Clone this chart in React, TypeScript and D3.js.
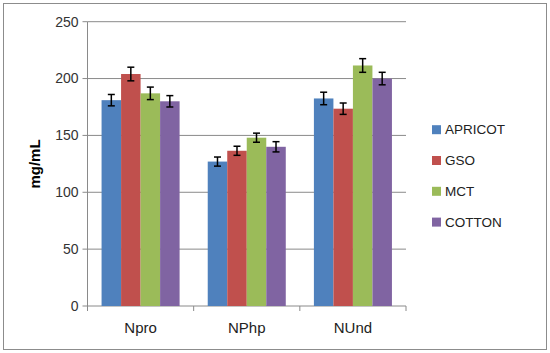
import React from "react";
import * as d3 from "d3";

const categories = ["Npro", "NPhp", "NUnd"];
const seriesNames = ["APRICOT", "GSO", "MCT", "COTTON"];
const colors = ["#4F81BD", "#C0504D", "#9BBB59", "#8064A2"];
const apricot = [181, 127, 182.5];
const gso = [204, 136.5, 173.5];
const mct = [187, 148, 211.5];
const cotton = [180, 140, 200];
const apricotErr = [5, 4, 5.5];
const gsoErr = [6, 4, 5];
const mctErr = [5.5, 4, 6];
const cottonErr = [5, 4.5, 5.5];
const yTicks = [0, 50, 100, 150, 200, 250];

const values = [apricot, gso, mct, cotton];
const errors = [apricotErr, gsoErr, mctErr, cottonErr];

export default function App() {
  const W = 550, H = 353;
  const left = 87.5, right = 406, top = 21.7, bottom = 306;
  const y = d3.scaleLinear().domain([0, 250]).range([bottom, top]);
  const x0 = d3.scaleBand().domain(categories).range([left, right]).paddingInner(0.265).paddingOuter(0.1325);
  const x1 = d3.scaleBand().domain(seriesNames).range([0, x0.bandwidth()]);
  const font = "Liberation Sans, Arial, sans-serif";
  const bandStep = (right - left) / categories.length;
  return (
    <svg width={W} height={H} style={{ position: "absolute", left: 0, top: 0 }} fontFamily={font}>
      <rect x={0} y={0} width={W} height={H} fill="#fff" />
      <rect x={3.5} y={3.5} width={543} height={346} fill="none" stroke="#8c8c8c" strokeWidth={1} />
      {yTicks.map((t) => (
        <g key={t}>
          {t > 0 && <line x1={left} x2={right} y1={y(t)} y2={y(t)} stroke="#8a8a8a" strokeWidth={1} />}
          <line x1={left - 5} x2={left} y1={y(t)} y2={y(t)} stroke="#8a8a8a" />
          <text x={left - 9} y={y(t)} dy="0.35em" textAnchor="end" fontSize={14} fill="#333">{t}</text>
        </g>
      ))}
      <line x1={left} x2={left} y1={top} y2={bottom} stroke="#8a8a8a" />
      <line x1={left} x2={right} y1={bottom} y2={bottom} stroke="#8a8a8a" />
      {d3.range(categories.length + 1).map((i) => (
        <line key={i} x1={left + i * bandStep} x2={left + i * bandStep} y1={bottom} y2={bottom + 5} stroke="#8a8a8a" />
      ))}
      {categories.map((c, ci) => (
        <g key={c}>
          {seriesNames.map((s, si) => {
            const bx = (x0(c) as number) + (x1(s) as number);
            const bw = x1.bandwidth();
            const v = values[si][ci];
            const e = errors[si][ci];
            const cx = bx + bw / 2;
            return (
              <g key={s}>
                <rect x={bx} y={y(v)} width={bw} height={bottom - y(v)} fill={colors[si]} />
                <line x1={cx} x2={cx} y1={y(v + e)} y2={y(v - e)} stroke="#000" strokeWidth={1.5} />
                <line x1={cx - 3.5} x2={cx + 3.5} y1={y(v + e)} y2={y(v + e)} stroke="#000" strokeWidth={1.5} />
                <line x1={cx - 3.5} x2={cx + 3.5} y1={y(v - e)} y2={y(v - e)} stroke="#000" strokeWidth={1.5} />
              </g>
            );
          })}
          <text x={(x0(c) as number) + x0.bandwidth() / 2} y={328} dy="0.35em" textAnchor="middle" fontSize={15} fill="#222">{c}</text>
        </g>
      ))}
      <text transform={`translate(35,164) rotate(-90)`} textAnchor="middle" dy="0.35em" fontSize={15} fontWeight="bold" fill="#000">mg/mL</text>
      {seriesNames.map((s, si) => {
        const ly = 129.7 + si * 30.8;
        return (
          <g key={s}>
            <rect x={432} y={ly - 4.5} width={9} height={9} fill={colors[si]} />
            <text x={445} y={ly} dy="0.35em" fontSize={13.5} fill="#222">{s}</text>
          </g>
        );
      })}
    </svg>
  );
}
